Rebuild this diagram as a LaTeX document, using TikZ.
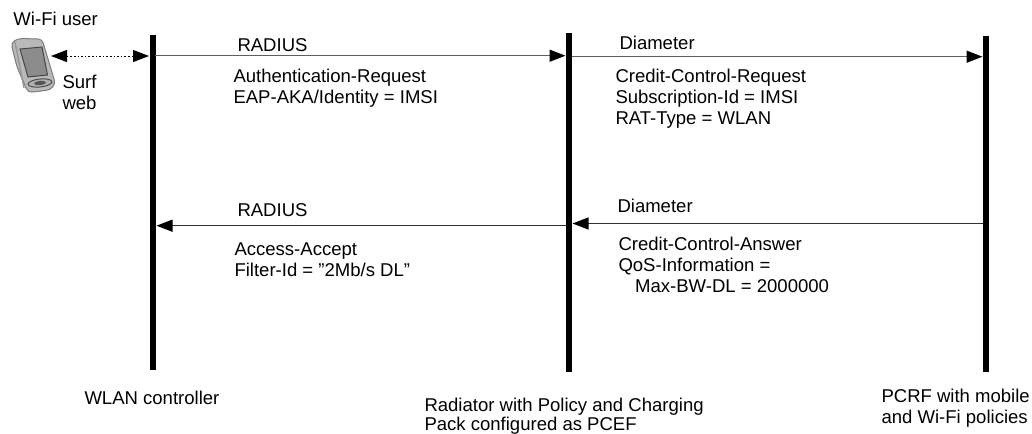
\documentclass[tikz,border=0pt]{standalone}
\usepackage{fontspec}
\setmainfont{Liberation Sans}
\usetikzlibrary{arrows.meta}
\tikzset{every picture/.style={line width=0.75pt}}
\tikzset{
  lifeline/.style={line width=4.5pt},
  message/.style={color={rgb, 255:red, 95; green, 95; blue, 95 },line width=1pt,-{Triangle[length=12pt,width=9pt,color=black]}},
  answer/.style={message,color={rgb, 255:red, 50; green, 50; blue, 50 }},
  surfarrow/.style={dash pattern={on 1.2pt off 1.5pt},line width=0.75pt,{Triangle[length=12pt,width=9pt]}-{Triangle[length=12pt,width=9pt]}},
  label/.style={anchor=north west,inner sep=0.75pt,align=left,font=\fontsize{13.9}{15.75}\selectfont},
}
\begin{document}
\begin{tikzpicture}[x=0.75pt,y=0.75pt,yscale=-1,xscale=1]
\useasboundingbox (0,0) rectangle (1032,433);

%Coordinates on the lifelines
\coordinate (wlantop) at (152.5,35);
\coordinate (wlanbot) at (152.5,370);
\coordinate (radtop) at (569,33);
\coordinate (radbot) at (569,372);
\coordinate (pcrftop) at (986,36);
\coordinate (pcrfbot) at (986,372);
\coordinate (phoneport) at (51,56);
\coordinate (wlanport) at (149,56);
\coordinate (wlanout) at (155,55.7);
\coordinate (radin) at (565.5,55.7);
\coordinate (radout) at (572,56.7);
\coordinate (pcrfin) at (982.5,56.7);
\coordinate (pcrfout) at (983,223.5);
\coordinate (radback) at (572.5,223.5);
\coordinate (radfwd) at (566,225.7);
\coordinate (wlanback) at (156.5,225.7);

%Shape: Phone
\draw [color={rgb, 255:red, 125; green, 125; blue, 125 },fill={rgb, 255:red, 185; green, 185; blue, 185 },line width=0.75pt,rounded corners=3pt] (11,43) -- (18,38.5) -- (42,39) -- (55.5,84) -- (50,90) -- (28,92.5) -- (17,67) -- cycle ;
\draw [color={rgb, 255:red, 150; green, 150; blue, 150 },line width=1pt] (15,42) -- (24,88) ;
\draw [color={rgb, 255:red, 70; green, 70; blue, 70 },fill={rgb, 255:red, 140; green, 140; blue, 140 }] (20,49) -- (42,47) -- (47.5,75) -- (28,77) -- cycle ;
\draw [color={rgb, 255:red, 80; green, 80; blue, 80 },fill={rgb, 255:red, 175; green, 175; blue, 175 },rotate around={-6:(40,83)}] (40,83) ellipse (12 and 4) ;
\draw [fill={rgb, 255:red, 85; green, 85; blue, 85 },draw=none,rotate around={-6:(40,83)}] (40,83) ellipse (6 and 2) ;

%Straight Lines
\draw [lifeline] (wlantop) -- (wlanbot) ;
\draw [lifeline] (radtop) -- (radbot) ;
\draw [lifeline] (pcrftop) -- (pcrfbot) ;
%Straight Lines
\draw [surfarrow] (phoneport) -- (wlanport) ;
\draw [message] (wlanout) -- (radin) ;
\draw [message] (radout) -- (pcrfin) ;
\draw [answer] (pcrfout) -- (radback) ;
\draw [answer] (radfwd) -- (wlanback) ;

% Text Node
\node (user) at (12,11) [label] {Wi-Fi user};
% Text Node
\node (surf) at (61,74) [label] {Surf\\web};
% Text Node
\node (radiusup) at (236,37.5) [label] {RADIUS};
% Text Node
\node (authreq) at (232,67.5) [label] {Authentication-Request\\EAP-AKA/Identity = IMSI};
% Text Node
\node (diamup) at (618,34.5) [label] {Diameter};
% Text Node
\node (ccreq) at (614,68) [label] {Credit-Control-Request\\Subscription-Id = IMSI\\RAT-Type = WLAN};
% Text Node
\node (radiusdown) at (236,202.5) [label] {RADIUS};
% Text Node
\node (accept) at (233,241.5) [label] {Access-Accept\\Filter-Id = ”2Mb/s DL”};
% Text Node
\node (diamdown) at (616,198) [label] {Diameter};
% Text Node
\node (ccans) at (617,235.5) [label] {Credit-Control-Answer\\QoS-Information =\\\hspace*{12.5pt}Max-BW-DL = 2000000};
% Text Node
\node (wlanctl) at (83,389.5) [label] {WLAN controller};
% Text Node
\node (radiator) at (423,396.5) [label] {Radiator with Policy and Charging\\[-1.5pt]Pack configured as PCEF};
% Text Node
\node (pcrf) at (880,388) [label] {PCRF with mobile\\and Wi-Fi policies};
\end{tikzpicture}
\end{document}
